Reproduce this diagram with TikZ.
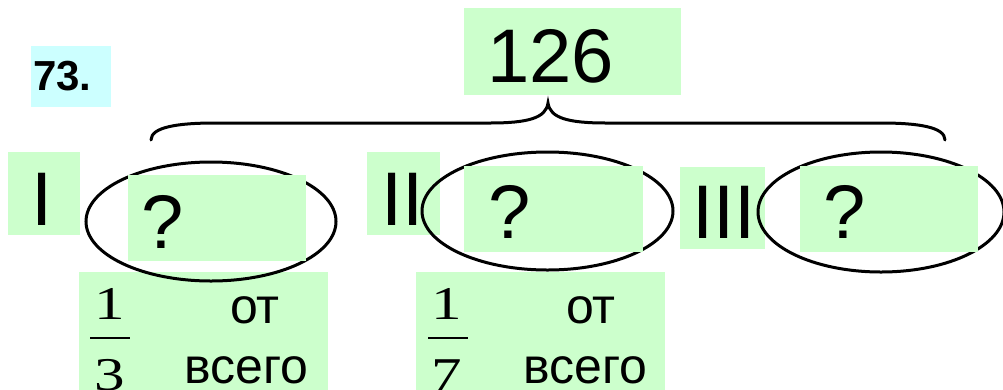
\documentclass[tikz,border=0pt]{standalone}
\usepackage{fontspec}
\setmainfont{Liberation Sans}
\newfontfamily\fracfont{Liberation Serif}
\usetikzlibrary{shapes.geometric}
\definecolor{boxgreen}{HTML}{CCFFCC}
\definecolor{boxcyan}{HTML}{CCFFFF}
\newcommand{\widedigit}[1]{\scalebox{1.3}[1]{#1}}
\tikzset{
  gbox/.style={fill=boxgreen, draw=none, inner sep=0, outer sep=0, anchor=north west},
  cbox/.style={fill=boxcyan, draw=none, inner sep=0, outer sep=0, anchor=north west},
  bigtxt/.style={inner sep=0, anchor=base west, font=\fontsize{76}{90}\selectfont},
  numtxt/.style={inner sep=0, anchor=base west, font=\fontsize{42}{50}\selectfont\bfseries},
  midtxt/.style={inner sep=0, anchor=base west, font=\fontsize{50}{60}\selectfont},
  fractxt/.style={inner sep=0, anchor=base, font=\fracfont\fontsize{47}{56}\selectfont},
  fracbar/.style={fill=black, draw=none, inner sep=0, minimum width=40, minimum height=2.5},
  part/.style={ellipse, draw=black, line width=3pt, inner sep=0},
  bracestyle/.style={draw=black, line width=3pt, line cap=round}
}
\begin{document}
\begin{tikzpicture}[x=1pt,y=-1pt]
\useasboundingbox (0,0) rectangle (1003,389);
\clip (0,0) rectangle (1003,389);
% number of the task
\node[cbox, minimum width=80, minimum height=61] (bnum) at (31,46) {};
\node[numtxt] (tnum) at (33,90) {73.};
% total
\node[gbox, minimum width=217, minimum height=87] (btot) at (464,8) {};
\node[bigtxt] (ttot) at (487,82) {126};
% part labels
\node[gbox, minimum width=72, minimum height=83] (bI) at (8,152) {};
\node[bigtxt] (tI) at (31,225) {I};
\node[gbox, minimum width=73, minimum height=83] (bII) at (367,152) {};
\node[bigtxt] (tII) at (381,225) {II};
\node[gbox, minimum width=85, minimum height=82] (bIII) at (680,167) {};
\node[bigtxt] (tIII) at (692,238) {III};
% fraction boxes
\node[gbox, minimum width=249, minimum height=125] (bf1) at (79,272) {};
\node[gbox, minimum width=249, minimum height=125] (bf2) at (416,272) {};
% ellipses
\node[part, minimum width=250, minimum height=119] (e1) at (211,221.5) {};
\node[part, minimum width=251, minimum height=118] (e2) at (547.5,211) {};
\node[part, minimum width=246, minimum height=120] (e3) at (881,212) {};
% question boxes
\node[gbox, minimum width=178, minimum height=86] (q1) at (128,175) {};
\node[bigtxt] (tq1) at (141,248) {?};
\node[gbox, minimum width=179, minimum height=86] (q2) at (464,166) {};
\node[bigtxt] (tq2) at (488,238) {?};
\node[gbox, minimum width=178, minimum height=86] (q3) at (800,166) {};
\node[bigtxt] (tq3) at (823,238) {?};
% fraction 1/3 of all
\node[fractxt] (f1n) at (110,319) {\widedigit{1}};
\node[fracbar] (f1b) at (110,338) {};
\node[fractxt] (f1d) at (110,390) {\widedigit{3}};
\node[midtxt] (f1a) at (230,323) {от};
\node[midtxt] (f1c) at (184,383) {всего};
% fraction 1/7 of all
\node[fractxt] (f2n) at (447,319) {\widedigit{1}};
\node[fracbar] (f2b) at (447.5,338) {};
\node[fractxt] (f2d) at (447,390) {\widedigit{7}};
\node[midtxt] (f2a) at (566,323) {от};
\node[midtxt] (f2c) at (523,383) {всего};
% brace
\coordinate (brL) at (151,140);
\coordinate (brT) at (548,103);
\coordinate (brR) at (945,140);
\draw[bracestyle] (brL) .. controls (151,127) and (178,123) .. (215,123)
  -- (490,123) .. controls (528,123) and (546,118) .. (brT)
  .. controls (550,118) and (568,123) .. (606,123)
  -- (881,123) .. controls (918,123) and (945,127) .. (brR);
\end{tikzpicture}
\end{document}
